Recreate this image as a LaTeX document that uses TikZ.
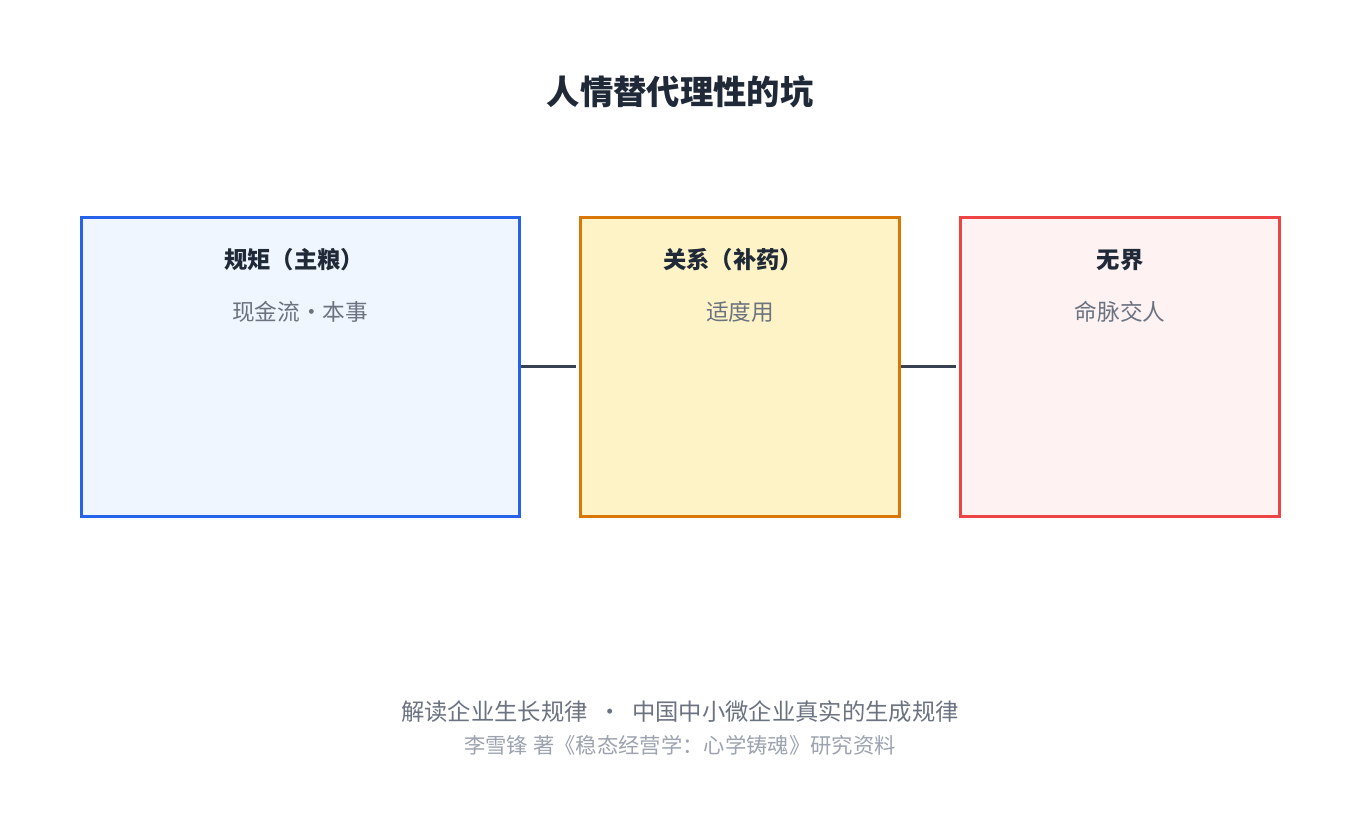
\documentclass[tikz,border=0pt]{standalone}
\usepackage{fontspec}
\setmainfont{Noto Sans CJK SC}
\usetikzlibrary{positioning}
\definecolor{inkdark}{HTML}{1F2937}
\definecolor{inkgray}{HTML}{6B7280}
\definecolor{inklight}{HTML}{9CA3AF}
\definecolor{linkgray}{HTML}{374151}
\tikzset{
  stage/.style={draw, line width=1.9pt, anchor=north west, inner sep=0pt},
  stagetitle/.style={font=\fontsize{17.5}{20}\selectfont\bfseries, text=inkdark},
  stagesub/.style={font=\fontsize{17}{20}\selectfont, text=inkgray},
  link/.style={linkgray, line width=2.4pt}
}
\begin{document}
\begin{tikzpicture}[x=0.75pt, y=-0.75pt]
        % Canvas
        \useasboundingbox[fill=white] (0,0) rectangle (1360,830);

        % Title
        \node[font=\fontsize{25}{30}\selectfont\bfseries, text=inkdark] (title) at (680,92) {人情替代理性的坑};

        % Three boxes
        \node[stage, draw={rgb,255:red,37;green,99;blue,235}, fill={rgb,255:red,239;green,246;blue,255},
              minimum width=328.5pt, minimum height=224.25pt] (rule) at (80,216) {};
        \node[stage, draw={rgb,255:red,217;green,119;blue,6}, fill={rgb,255:red,254;green,243;blue,199},
              minimum width=239.25pt, minimum height=224.25pt] (tie) at (579,216) {};
        \node[stage, draw={rgb,255:red,239;green,68;blue,68}, fill={rgb,255:red,254;green,242;blue,242},
              minimum width=239.25pt, minimum height=224.25pt] (wild) at (959,216) {};

        % Box texts
        \node[stagetitle] (ruletitle) at (294,260) {规矩（主粮）};
        \node[stagesub] (rulesub) at (300,312) {现金流・本事};
        \node[stagetitle] (tietitle) at (733,260) {关系（补药）};
        \node[stagesub] (tiesub) at (740,312) {适度用};
        \node[stagetitle] (wildtitle) at (1120,260) {无界};
        \node[stagesub] (wildsub) at (1120,312) {命脉交人};

        % Connectors
        \draw[link, shorten >=2pt] (rule.east) -- (tie.west);
        \draw[link, shorten >=2pt] (tie.east) -- (wild.west);

        % Footer
        \node[font=\fontsize{17.5}{20}\selectfont, text=inkgray] (foot) at (680,712) {解读企业生长规律 \ · \ 中国中小微企业真实的生成规律};
        \node[font=\fontsize{16}{18}\selectfont, text=inklight] (credit) at (680,745) {李雪锋 著《稳态经营学：心学铸魂》研究资料};
\end{tikzpicture}
\end{document}
